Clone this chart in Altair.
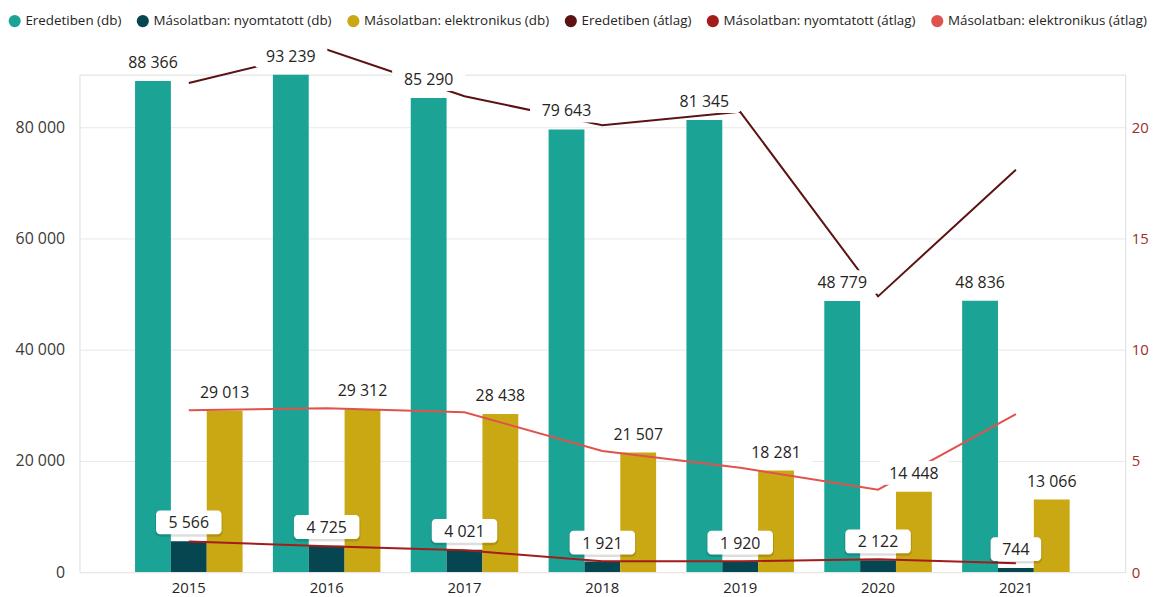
import altair as alt
import pandas as pd

years = ["2015", "2016", "2017", "2018", "2019", "2020", "2021"]
eredeti_db = [88366, 93239, 85290, 79643, 81345, 48779, 48836]
nyomtatott_db = [5566, 4725, 4021, 1921, 1920, 2122, 744]
elektronikus_db = [29013, 29312, 28438, 21507, 18281, 14448, 13066]
eredeti_atlag = [22.0, 23.5, 21.4, 20.1, 20.7, 12.4, 18.1]
nyomtatott_atlag = [1.38, 1.16, 0.98, 0.49, 0.49, 0.58, 0.40]
elektronikus_atlag = [7.28, 7.37, 7.19, 5.45, 4.69, 3.71, 7.10]

bar_series = ["Eredetiben (db)", "Másolatban: nyomtatott (db)", "Másolatban: elektronikus (db)"]
line_series = ["Eredetiben (átlag)", "Másolatban: nyomtatott (átlag)", "Másolatban: elektronikus (átlag)"]
colors = ["#1BA496", "#054650", "#C9A813", "#5C1212", "#A31B1B", "#E0534D"]

bar_rows = []
for s, vals in zip(bar_series, [eredeti_db, nyomtatott_db, elektronikus_db]):
    for y, v in zip(years, vals):
        bar_rows.append({"year": y, "series": s, "value": v,
                         "label": f"{v:,}".replace(",", " ")})
bars_df = pd.DataFrame(bar_rows)

line_rows = []
for s, vals in zip(line_series, [eredeti_atlag, nyomtatott_atlag, elektronikus_atlag]):
    for y, v in zip(years, vals):
        line_rows.append({"year": y, "series": s, "avg": v})
lines_df = pd.DataFrame(line_rows)

FONT = "Open Sans"
LEFT_MAX = 89500
RIGHT_MAX = LEFT_MAX / 4000

x_enc = alt.X("year:N", sort=years,
              scale=alt.Scale(paddingInner=0.22, paddingOuter=0.403),
              axis=alt.Axis(title=None, labelAngle=0, domain=False, ticks=False,
                            labelFontSize=15, labelColor="#252423", labelPadding=9,
                            grid=False))
x_off = alt.XOffset("series:N", sort=bar_series,
                    scale=alt.Scale(domain=bar_series, paddingInner=0, paddingOuter=0))
left_scale = alt.Scale(domain=[0, LEFT_MAX], nice=False, zero=True, clamp=True)
right_scale = alt.Scale(domain=[0, RIGHT_MAX], nice=False, zero=True)
color_scale = alt.Scale(domain=bar_series + line_series, range=colors)
legend = alt.Legend(title=None, orient="none", legendX=-72, legendY=-61,
                    direction="horizontal", symbolType="circle", symbolSize=150,
                    symbolStrokeWidth=0, labelFontSize=13.5, labelColor="#252423",
                    labelFont=FONT, columnPadding=14, labelOffset=4, labelLimit=0)

bars = alt.Chart(bars_df).mark_bar(clip=True).encode(
    x=x_enc,
    xOffset=x_off,
    y=alt.Y("value:Q", scale=left_scale,
            axis=alt.Axis(title=None, domain=False, ticks=False, values=[0, 20000, 40000, 60000, 80000],
                          labelExpr="replace(format(datum.value, ','), ',', ' ')",
                          labelFontSize=16, labelColor="#3B3A39", labelPadding=15,
                          gridColor="#E8E8E8", gridWidth=1)),
    color=alt.Color("series:N", scale=color_scale, legend=legend),
)

lines = alt.Chart(lines_df).mark_line(strokeWidth=2).encode(
    x=x_enc,
    y=alt.Y("avg:Q", scale=right_scale,
            axis=alt.Axis(title=None, orient="right", domain=False, ticks=False, grid=False,
                          values=[0, 5, 10, 15, 20], labelFontSize=15, labelColor="#A12B2B",
                          labelPadding=6)),
    color=alt.Color("series:N", scale=color_scale, legend=legend),
    detail="series:N",
)

shadow = alt.Chart(bars_df).transform_filter(
    alt.datum.series == bar_series[1]
).mark_rect(fill="#000000", opacity=0.13, cornerRadius=5, height=26, yOffset=-17.5,
            width={"expr": "length(datum.label) * 7.5 + 30.5"}).encode(
    x=x_enc, xOffset=x_off,
    y=alt.Y("value:Q", scale=left_scale, axis=None),
)

boxes = alt.Chart(bars_df).mark_rect(fill="white", cornerRadius=4, height=24, yOffset=-19,
                                     width={"expr": "length(datum.label) * 7.5 + 28.5"}).encode(
    x=x_enc, xOffset=x_off,
    y=alt.Y("value:Q", scale=left_scale, axis=None),
)

texts = alt.Chart(bars_df).mark_text(fontSize=16, color="#252423", baseline="middle",
                                     dy=-18, font=FONT).encode(
    x=x_enc, xOffset=x_off,
    y=alt.Y("value:Q", scale=left_scale, axis=None),
    text="label:N",
)

chart = alt.layer(bars, lines, shadow, boxes, texts).resolve_scale(
    y="independent"
).properties(
    width=1053, height=501,
    autosize=alt.AutoSizeParams(type="none"),
    padding={"left": 72, "top": 65, "right": 31, "bottom": 23},
).configure_view(stroke=None).configure(font=FONT)

chart.save("out.html", embed_options={"renderer": "svg", "actions": False})
